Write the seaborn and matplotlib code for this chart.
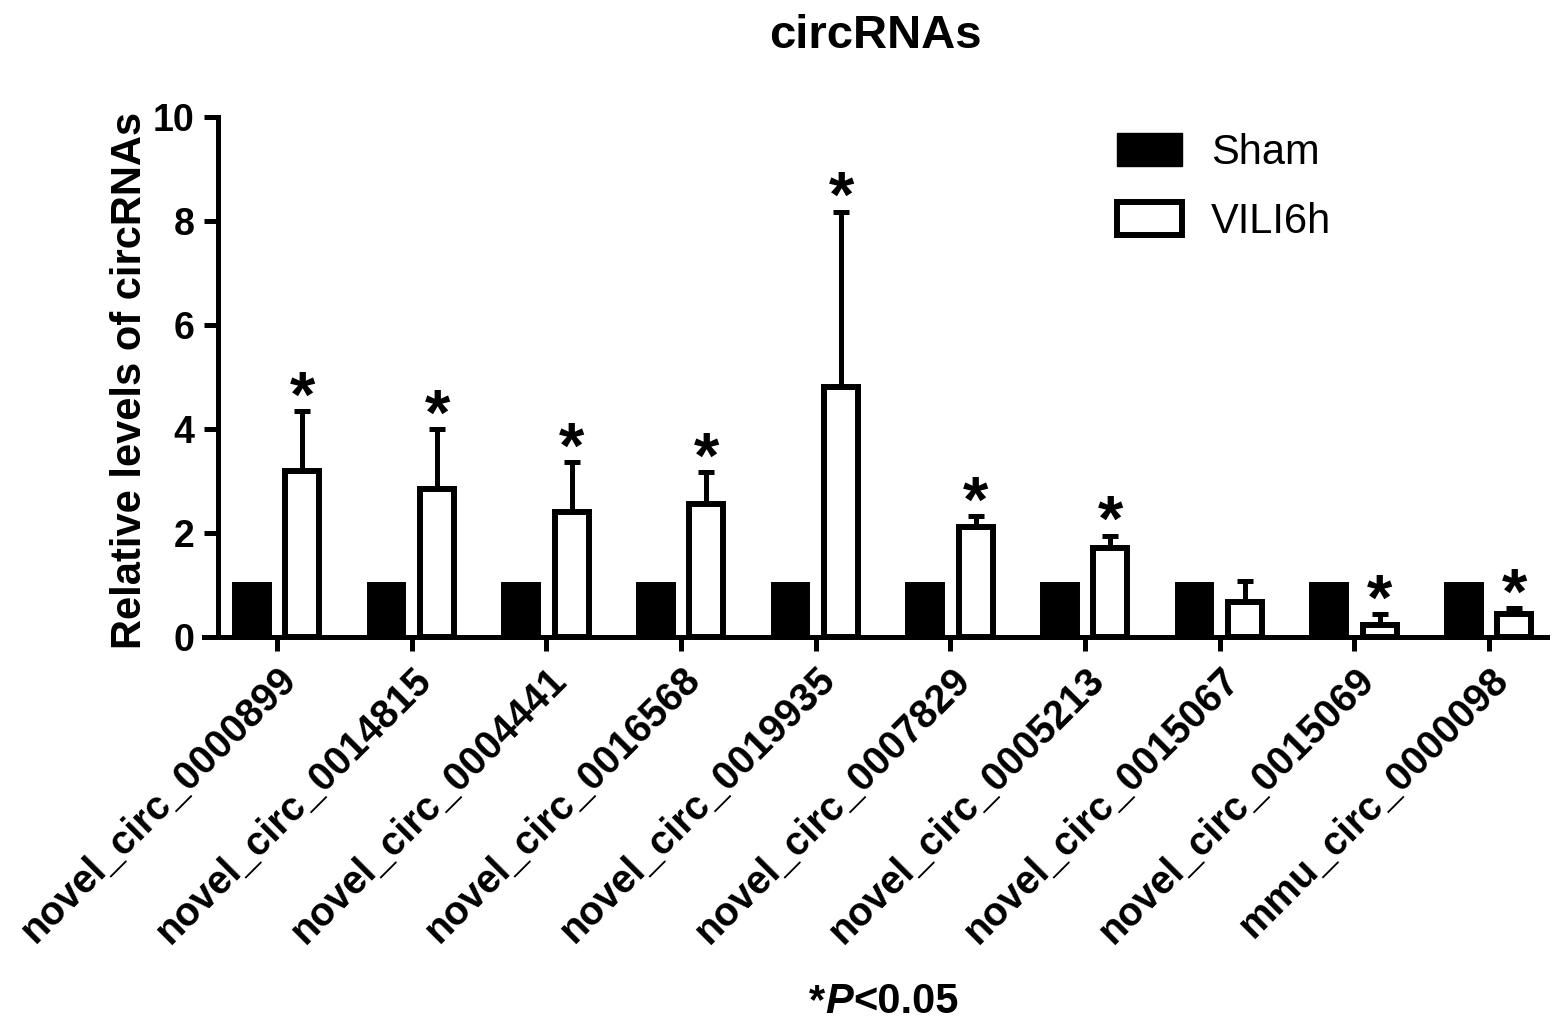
import numpy as np
import pandas as pd
import matplotlib
matplotlib.use('Agg')
import matplotlib.pyplot as plt
import seaborn as sns
from matplotlib.patches import Patch
from matplotlib.offsetbox import TextArea, HPacker, AnchoredOffsetbox

# values
genes = ['novel_circ_0000899', 'novel_circ_0014815', 'novel_circ_0004441',
         'novel_circ_0016568', 'novel_circ_0019935', 'novel_circ_0007829',
         'novel_circ_0005213', 'novel_circ_0015067', 'novel_circ_0015069',
         'mmu_circ_0000098']
groups = ['Sham', 'VILI6h']
sham = [1.0, 1.0, 1.0, 1.0, 1.0, 1.0, 1.0, 1.0, 1.0, 1.0]
vili = [3.2, 2.84, 2.40, 2.56, 4.80, 2.11, 1.71, 0.67, 0.24, 0.45]
vili_sd = [1.15, 1.16, 0.97, 0.61, 3.38, 0.21, 0.24, 0.40, 0.20, 0.11]
signif = [True, True, True, True, True, True, True, False, True, True]
yticks = [0, 2, 4, 6, 8, 10]

sns.set_style('ticks')
plt.rcParams['font.family'] = ['Liberation Sans', 'DejaVu Sans']
for key in ['text.color', 'axes.labelcolor', 'xtick.color', 'ytick.color', 'axes.edgecolor']:
    plt.rcParams[key] = 'black'

df = pd.DataFrame({
    'gene': genes * 2,
    'group': ['Sham'] * len(genes) + ['VILI6h'] * len(genes),
    'value': sham + vili,
})

W, H = 1559, 1022
fig = plt.figure(figsize=(W / 100, H / 100), dpi=100)
ax = fig.add_axes([204 / W, 1 - 637 / H, 1343 / W, 520 / H])

lw_axis = 3.6
lw_bar = 4.3

sns.barplot(data=df, x='gene', y='value', hue='group', hue_order=groups,
            palette={'Sham': 'black', 'VILI6h': 'white'}, saturation=1,
            edgecolor='black', linewidth=lw_bar, width=0.75, gap=0.33,
            errorbar=None, legend=False, ax=ax, zorder=2)

# SD bars (upper only) on VILI6h
vili_bars = ax.containers[1]
xs = [b.get_x() + b.get_width() / 2 for b in vili_bars]
ax.errorbar(xs, vili, yerr=[np.zeros(len(vili)), vili_sd], fmt='none',
            ecolor='black', elinewidth=lw_axis, capsize=5.8, capthick=lw_axis,
            zorder=1)

for x, m, s, sig in zip(xs, vili, vili_sd, signif):
    if sig:
        ax.annotate('*', xy=(x, m + s), xytext=(0, -4), textcoords='offset points',
                    ha='center', va='baseline', fontsize=47, fontweight='bold')

ax.set_ylim(0, 10)
ax.set_xlim(-0.543, 9.43)
ax.set_yticks(yticks)
ax.spines['left'].set_position(('data', -0.44))
ax.spines['left'].set_linewidth(lw_axis)
ax.spines['bottom'].set_linewidth(lw_axis)
ax.spines['top'].set_visible(False)
ax.spines['right'].set_visible(False)
ax.tick_params(axis='both', length=10, width=lw_axis, pad=7)
ax.tick_params(axis='y', labelsize=27)
ax.tick_params(axis='x', labelsize=28.5)
for t in ax.get_yticklabels():
    t.set_fontweight('bold')
ax.set_xticks(range(len(genes)))
ax.set_xticklabels(genes, rotation=45, ha='right', rotation_mode='anchor',
                   fontweight='bold')
ax.set_xlabel('')
ax.set_ylabel('Relative levels of circRNAs', fontsize=30, fontweight='bold')
ax.yaxis.set_label_coords(-0.04, 0.494)
ax.set_title('circRNAs', fontsize=34, fontweight='bold', pad=50)

handles = [Patch(facecolor='black', edgecolor='black', linewidth=1),
           Patch(facecolor='white', edgecolor='black', linewidth=lw_bar)]
ax.legend(handles, groups, loc='upper left',
          bbox_to_anchor=(1117 / W, 1 - 133 / H), bbox_transform=fig.transFigure,
          frameon=False, fontsize=30, handlelength=1.55, handleheight=0.85,
          handletextpad=0.7, labelspacing=0.7, borderaxespad=0, borderpad=0)

# footnote *P<0.05
tp = dict(fontsize=30, fontweight='bold')
pieces = [TextArea('*', textprops=tp),
          TextArea('P', textprops=dict(fontsize=30, fontweight='bold', style='italic')),
          TextArea('<0.05', textprops=tp)]
box = HPacker(children=pieces, align='baseline', pad=0, sep=0)
anchored = AnchoredOffsetbox(loc='center', child=box, pad=0, borderpad=0, frameon=False,
                             bbox_to_anchor=(884 / W, 1 - 1002 / H),
                             bbox_transform=fig.transFigure)
ax.add_artist(anchored)

fig.savefig('out.png', dpi=100)
